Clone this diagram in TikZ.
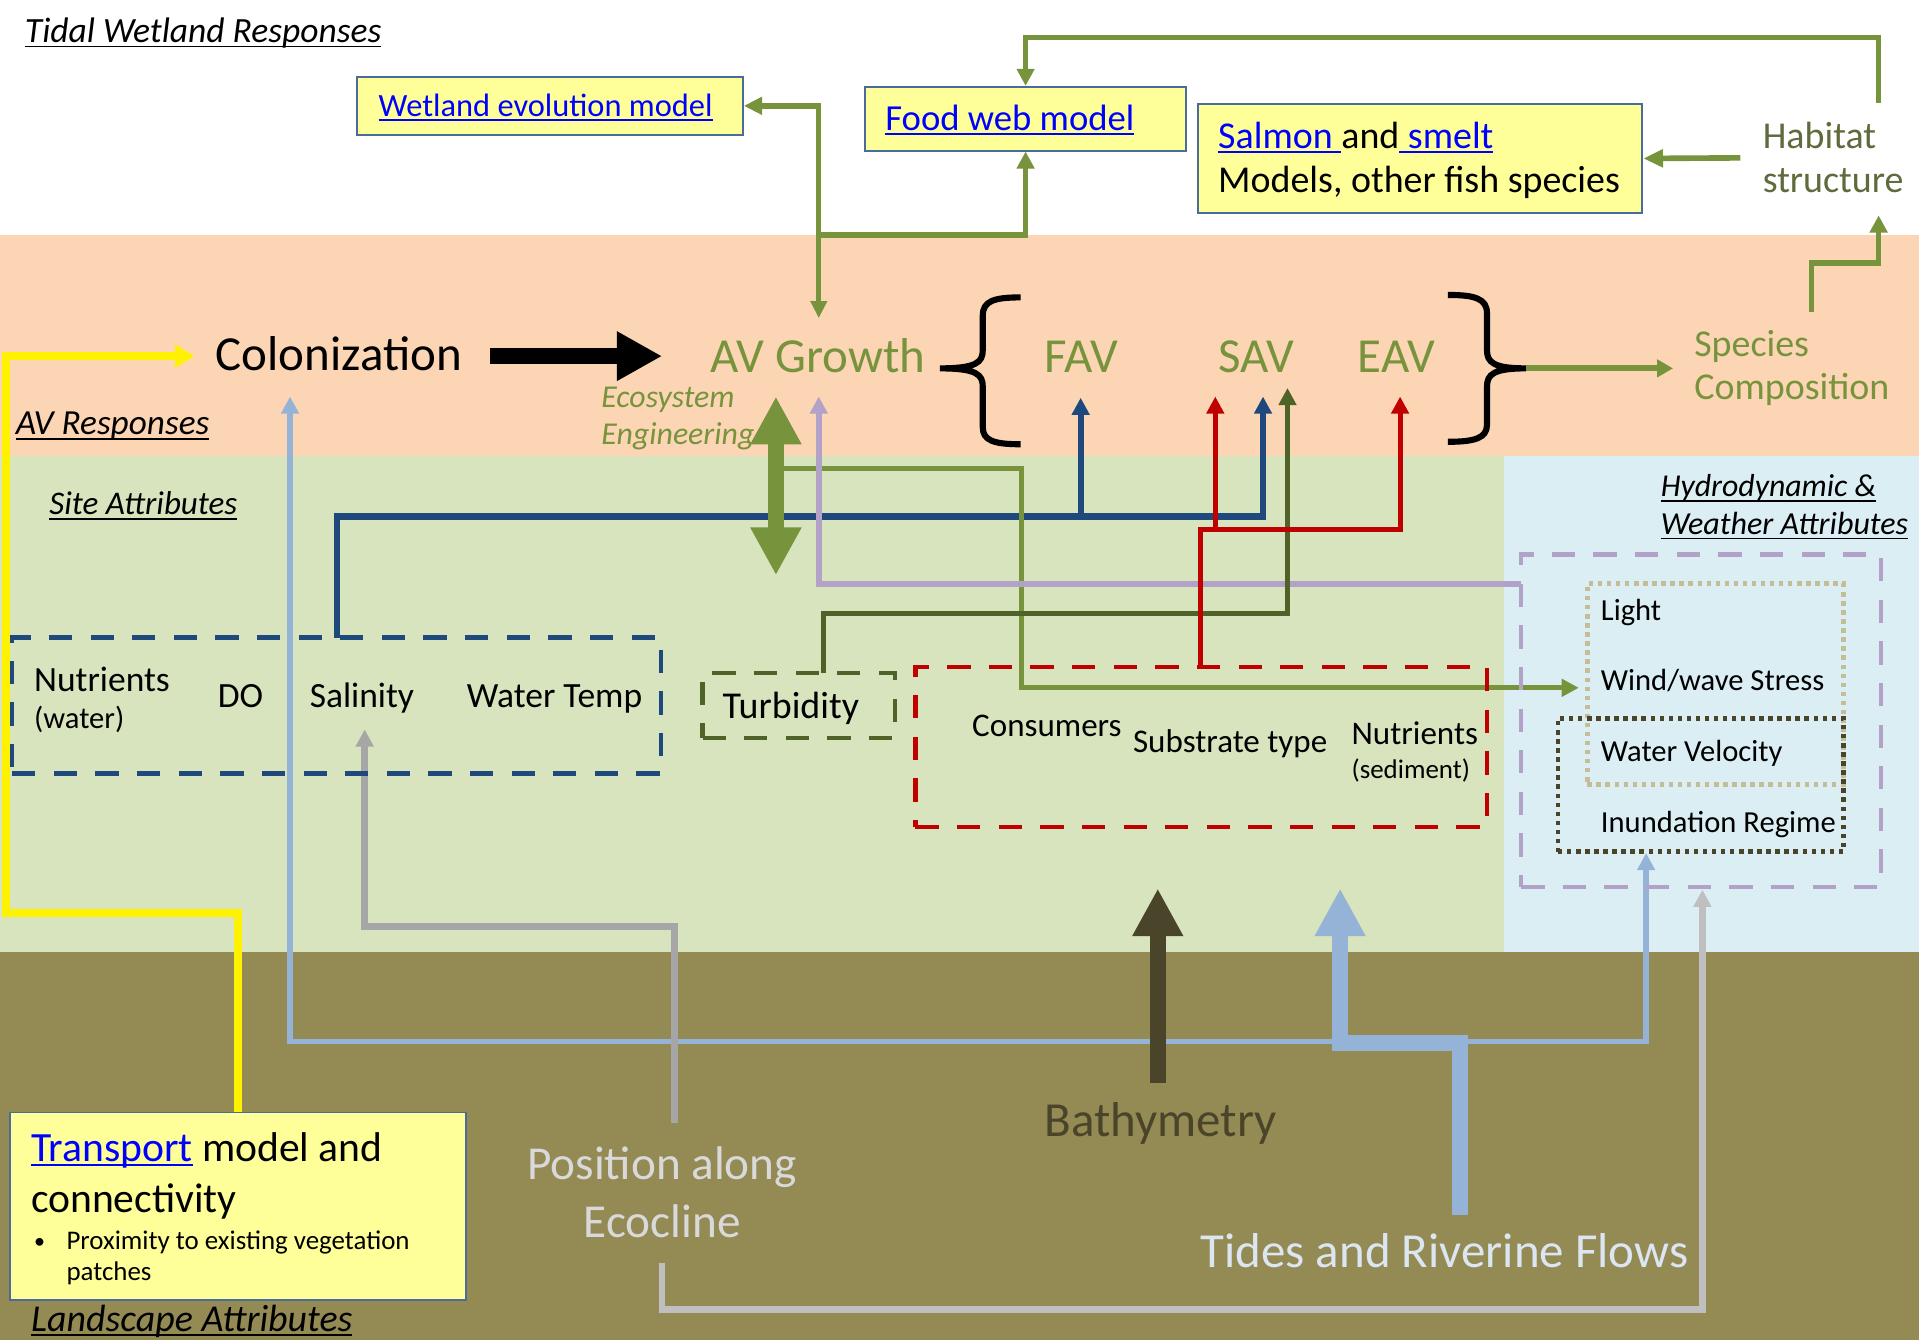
\documentclass[tikz,border=0pt]{standalone}
\usepackage{fontspec}
\setmainfont{Carlito}
\usetikzlibrary{arrows.meta}

\definecolor{peach}{HTML}{FCD5B5}
\definecolor{sitegreen}{HTML}{D7E4BD}
\definecolor{hydroblue}{HTML}{DBEEF4}
\definecolor{landtan}{HTML}{948A54}
\definecolor{boxyellow}{HTML}{FFFF99}
\definecolor{boxedge}{HTML}{4A6C9B}
\definecolor{avgreen}{HTML}{77933C}
\definecolor{darkolive}{HTML}{4F6228}
\definecolor{siteblue}{HTML}{1F497D}
\definecolor{darkred}{HTML}{C00000}
\definecolor{lavender}{HTML}{B3A2C7}
\definecolor{skyline}{HTML}{95B3D7}
\definecolor{midgray}{HTML}{A6A6A6}
\definecolor{softgray}{HTML}{BFBFBF}
\definecolor{earth}{HTML}{4A452A}
\definecolor{paleblue}{HTML}{DCE6F2}
\definecolor{palegray}{HTML}{D9D9D9}
\definecolor{linkblue}{HTML}{0000FF}
\definecolor{habitatcol}{HTML}{5F6B3C}
\definecolor{sand}{HTML}{C4BD97}

\newcommand\setfs[1]{\fontsize{#1}{#1}\selectfont}
% underline drawn at a fixed depth below the baseline
\newcommand\ulin[1]{\leavevmode\setbox0\hbox{#1}\rlap{\rule[-1.9pt]{\wd0}{0.8pt}}\box0}
\newcommand\lnk[1]{{\color{linkblue}\ulin{#1}}}

\tikzset{
  lbl/.style={inner sep=0pt, anchor=base west},
  clbl/.style={inner sep=0pt, anchor=base},
  modelbox/.style={draw=boxedge, line width=0.8pt, fill=boxyellow, inner sep=0pt},
  wire/.style={line width=2pt, line join=miter},
  arr/.style={-{Triangle[length=7pt,width=7pt]}},
  bigarr/.style={-{Triangle[length=19.5pt,width=19.5pt]}},
  dashbox/.style={line width=1.75pt, dash pattern=on 9.5pt off 7.5pt, inner sep=0pt},
  dotbox/.style={line width=2pt, dash pattern=on 1.8pt off 1.9pt, inner sep=0pt},
  brace/.style={line width=2.5pt, black},
}

\begin{document}
\begin{tikzpicture}[x=0.5pt,y=-0.5pt]
\useasboundingbox (0,0) rectangle (1568,1095);

% background bands
\fill[white] (0,0) rectangle (1568,192);
\fill[peach] (0,192) rectangle (1568,373);
\fill[sitegreen] (0,373) rectangle (1229,778);
\fill[hydroblue] (1229,373) rectangle (1568,778);
\fill[landtan] (0,778) rectangle (1568,1095);

% boxes
\node[modelbox, minimum width=157.5pt, minimum height=23.5pt] (wetland) at (449.5,86.5) {};
\node[modelbox, minimum width=131pt, minimum height=26pt] (foodweb) at (838,97) {};
\node[modelbox, minimum width=181.5pt, minimum height=44.5pt] (salmon) at (1160.5,129.5) {};
\node[modelbox, minimum width=186.5pt, minimum height=76.5pt] (transport) at (194.5,985.5) {};

% key points of the connectors
\coordinate (avtop) at (669,260);
\coordinate (avsplit) at (669,192);
\coordinate (habW) at (1422,129);
\coordinate (habN) at (1535,84);
\coordinate (topbar) at (838,31);
\coordinate (spN) at (1480,255);
\coordinate (spbend) at (1480,215);
\coordinate (habS) at (1535,176);
\coordinate (rbtip) at (1247,301);
\coordinate (spW) at (1367,301);
\coordinate (colA) at (400,291);
\coordinate (colB) at (541,291);
\coordinate (ycorner) at (5,746);
\coordinate (ytip) at (159,291);
\coordinate (colS) at (237,324);
\coordinate (lbA) at (237,851);
\coordinate (lbB) at (1345,851);
\coordinate (inundS) at (1345,697);
\coordinate (tidesN) at (1193,993);
\coordinate (tbend) at (1095,852);
\coordinate (tidesTip) at (1095,726);
\coordinate (posN) at (551,918);
\coordinate (gbend) at (298,757);
\coordinate (salS) at (298,596);
\coordinate (ecoS) at (541,1032);
\coordinate (lgbend) at (1391,1070);
\coordinate (hydroS) at (1391,727);
\coordinate (bathN) at (946,885);
\coordinate (bathTip) at (946,726);
\coordinate (siteN) at (275,521);
\coordinate (dbbend) at (1032,422);
\coordinate (savB) at (1032,324);
\coordinate (fav0) at (883,422);
\coordinate (favB) at (883,325);
\coordinate (engA) at (640,383);
\coordinate (windbend) at (835,562);
\coordinate (windW) at (1290,562);
\coordinate (hydroW) at (1243,477);
\coordinate (avB) at (669,324);
\coordinate (turbN) at (673,550);
\coordinate (tbbend) at (1052,501);
\coordinate (savB2) at (1052,317);
\coordinate (redN) at (981,545);
\coordinate (redbend) at (1144,433);
\coordinate (eavB) at (1144,324);
\coordinate (red0) at (993,433);
\coordinate (savB3) at (993,324);
\coordinate (engUp) at (634,324);
\coordinate (engDown) at (634,470);

% landscape drivers
\draw[wire, skyline, line width=2.4pt, {Triangle[length=7pt,width=7pt]}-{Triangle[length=7pt,width=7pt]}] (colS) -- (lbA) -- (lbB) -- (inundS);
\draw[skyline, line width=6.5pt, line join=miter, bigarr] (tidesN) |- (tbend) -- (tidesTip);
\draw[wire, midgray, line width=2.7pt, arr] (posN) |- (gbend) -- (salS);
\draw[wire, softgray, line width=2.7pt, arr] (ecoS) |- (lgbend) -- (hydroS);
\draw[earth, line width=6.5pt, bigarr] (bathN) -- (bathTip);
\draw[wire, yellow, line width=3pt, {Triangle[length=8pt,width=9pt]}-] (ytip) -| (ycorner) -| (transport.north);

% site attribute links
\draw[wire, siteblue, line width=2.5pt, arr] (siteN) |- (dbbend) -- (savB);
\draw[wire, siteblue, line width=2.5pt, arr] (fav0) -- (favB);
\draw[wire, avgreen, arr] (engA) -| (windbend) -- (windW);
\draw[wire, lavender, line width=2.5pt, arr] (hydroW) -| (avB);
\draw[wire, darkolive, arr] (turbN) |- (tbbend) -- (savB2);
\draw[wire, darkred, arr] (redN) |- (redbend) -- (eavB);
\draw[wire, darkred, arr] (red0) -- (savB3);
\draw[avgreen, line width=6.25pt, {Triangle[length=19.5pt,width=19.5pt]}-{Triangle[length=19.5pt,width=19.5pt]}] (engUp) -- (engDown);

% AV responses
\draw[black, line width=6.8pt, -{Triangle[length=18.5pt,width=19pt]}] (colA) -- (colB);
\draw[brace] (834,243) .. controls (812,243) and (803,246) .. (803,258) -- (803,286)
  .. controls (803,296) and (798,301) .. (768,301)
  .. controls (798,301) and (803,306) .. (803,316) -- (803,349)
  .. controls (803,360) and (812,363) .. (834,363);
\draw[brace] (1183,241) .. controls (1205,241) and (1215,244) .. (1215,256) -- (1215,286)
  .. controls (1215,296) and (1220,301) .. (1247,301)
  .. controls (1220,301) and (1215,306) .. (1215,316) -- (1215,347)
  .. controls (1215,358) and (1205,361) .. (1183,361);
\draw[wire, avgreen, line width=2.5pt, -{Triangle[length=6.5pt,width=7pt]}] (rbtip) -- (spW);

% tidal wetland responses
\draw[wire, avgreen, line width=2.2pt, {Triangle[length=7.5pt,width=7pt]}-{Triangle[length=7pt,width=6.5pt]}] (wetland.east) -| (avtop);
\draw[wire, avgreen, line width=2.2pt, arr] (avsplit) -| (foodweb.south);
\draw[wire, avgreen, line width=2.3pt, -{Triangle[length=8pt,width=7pt]}] (habW) -- (salmon.east);
\draw[wire, avgreen, line width=2pt, arr] (habN) |- (topbar) -- (foodweb.north);
\draw[wire, avgreen, line width=2.3pt, arr] (spN) -- (spbend) -| (habS);

% attribute groups
\node[dashbox, draw=siteblue, minimum width=265pt, minimum height=55.5pt] (sitebox) at (275,576.5) {};
\node[dashbox, draw=darkolive, minimum width=78.5pt, minimum height=26.5pt] (turbbox) at (652.5,576.5) {};
\node[dashbox, draw=darkred, minimum width=233.5pt, minimum height=65.5pt] (sedbox) at (981.5,610.5) {};
\node[dashbox, draw=lavender, minimum width=147pt, minimum height=136pt] (hydrobox) at (1390,589) {};
\node[dotbox, draw=sand, minimum width=104.5pt, minimum height=82pt] (lightbox) at (1401.5,559) {};
\node[dotbox, draw=earth, minimum width=116.5pt, minimum height=54.5pt] (flowbox) at (1389.5,641.5) {};

% texts
\node[lbl, font=\setfs{14.5}\itshape] (title) at (20,35) {\ulin{Tidal Wetland Responses}};
\node[lbl, font=\setfs{13.25}] (wetlandtxt) at (309,95.3) {\lnk{Wetland evolution model}};
\node[lbl, font=\setfs{15}] (foodtxt) at (723,106.8) {\lnk{Food web model}};
\node[lbl, font=\setfs{15.5}] (salmontxt) at (995,121) {\lnk{Salmon }and\lnk{ smelt}};
\node[lbl, font=\setfs{15.5}] (fishtxt) at (995,157.4) {Models, other fish species};
\node[lbl, font=\setfs{15.5}, text=habitatcol] (hab1) at (1440,121) {Habitat};
\node[lbl, font=\setfs{15.5}, text=habitatcol] (hab2) at (1440,157.4) {structure};

\node[lbl, font=\setfs{20}] (colon) at (176,303) {Colonization};
\node[lbl, font=\setfs{20}, text=avgreen] (avg) at (580,304.5) {AV Growth};
\node[lbl, font=\setfs{20}, text=avgreen] (fav) at (853,304.5) {FAV};
\node[lbl, font=\setfs{20}, text=avgreen] (sav) at (995,304.5) {SAV};
\node[lbl, font=\setfs{20}, text=avgreen] (eav) at (1109,304.5) {EAV};
\node[lbl, font=\setfs{15.5}, text=avgreen] (sp1) at (1384,291.4) {Species};
\node[lbl, font=\setfs{15.5}, text=avgreen] (sp2) at (1384,326.8) {Composition};
\node[lbl, font=\setfs{13}\itshape, text=avgreen] (eng1) at (491,332.7) {Ecosystem};
\node[lbl, font=\setfs{13}\itshape, text=avgreen] (eng2) at (491,363.6) {Engineering};
\node[lbl, font=\setfs{14.4}\itshape] (avresp) at (12.5,355.4) {\ulin{AV Responses}};

\node[lbl, font=\setfs{13.5}\itshape] (sitehead) at (40,420.8) {\ulin{Site Attributes}};
\node[lbl, font=\setfs{14.5}] (nutw) at (27.5,565) {Nutrients};
\node[lbl, font=\setfs{12.5}] (nutw2) at (27.5,595) {(water)};
\node[lbl, font=\setfs{14.5}] (do) at (177.6,578) {DO};
\node[lbl, font=\setfs{14.5}] (sal) at (252.7,578) {Salinity};
\node[lbl, font=\setfs{14.5}] (wtemp) at (381,578) {Water Temp};
\node[lbl, font=\setfs{15.5}] (turb) at (590,586.8) {Turbidity};
\node[lbl, font=\setfs{13.5}] (cons) at (794,602) {Consumers};
\node[lbl, font=\setfs{13.5}] (subs) at (925.4,615) {Substrate type};
\node[lbl, font=\setfs{13.5}] (nuts) at (1104,608) {Nutrients};
\node[lbl, font=\setfs{11}] (nuts2) at (1104,636) {(sediment)};

\node[lbl, font=\setfs{13}\itshape] (hyd1) at (1356.6,406) {\ulin{Hydrodynamic \&}};
\node[lbl, font=\setfs{13.1}\itshape] (hyd2) at (1356.6,437) {\ulin{Weather Attributes}};
\node[lbl, font=\setfs{12.5}] (light) at (1307.7,506.6) {Light};
\node[lbl, font=\setfs{12.5}] (wind) at (1307.7,564) {Wind/wave Stress};
\node[lbl, font=\setfs{12.5}] (wvel) at (1307.7,622) {Water Velocity};
\node[lbl, font=\setfs{12.5}] (inund) at (1307.7,680) {Inundation Regime};

\node[lbl, font=\setfs{17}] (tr1) at (25,949) {\lnk{Transport} model and};
\node[lbl, font=\setfs{17}] (tr2) at (25,991) {connectivity};
\node[lbl, font=\setfs{9}] (bul) at (27.5,1020) {\textbullet};
\node[lbl, font=\setfs{11}] (tr3) at (54,1021) {Proximity to existing vegetation};
\node[lbl, font=\setfs{11}] (tr4) at (54,1046) {patches};
\node[lbl, font=\setfs{15.5}\itshape] (landhead) at (25,1088) {\ulin{Landscape Attributes}};

\node[clbl, font=\setfs{19.3}, text=palegray] (pos1) at (541,964) {Position along};
\node[clbl, font=\setfs{19.3}, text=palegray] (pos2) at (541,1011) {Ecocline};
\node[lbl, font=\setfs{20}, text=earth] (bath) at (853,928.7) {Bathymetry};
\node[lbl, font=\setfs{20}, text=paleblue] (tides) at (980.6,1036) {Tides and Riverine Flows};
\end{tikzpicture}
\end{document}
